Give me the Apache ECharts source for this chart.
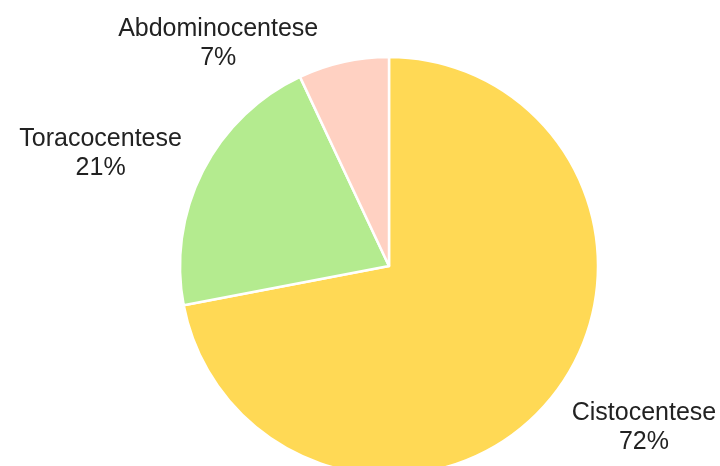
<!DOCTYPE html>
<html>
<head>
<meta charset="utf-8">
<script src="https://cdn.jsdelivr.net/npm/echarts@6/dist/echarts.min.js"></script>
<style>html,body{margin:0;padding:0;background:#fff;}#c{width:720px;height:466px;}</style>
</head>
<body>
<div id="c"></div>
<script>
const categories = ['Cistocentese', 'Toracocentese', 'Abdominocentese'];
const values = [72, 21, 7];
const colors = ['#FFD955', '#B4EB8F', '#FFD1C2'];
const lineLen = [45, 38, 19];
const lineLen2 = [-18, -18, 16];

const chart = echarts.init(document.getElementById('c'));
chart.setOption({
  animation: false,
  series: [{
    type: 'pie',
    center: [389, 266],
    radius: 209,
    startAngle: 90,
    clockwise: true,
    avoidLabelOverlap: false,
    itemStyle: { borderColor: '#fff', borderWidth: 2.5 },
    label: {
      show: true,
      position: 'outside',
      formatter: '{b}\n{d}%',
      fontFamily: 'Liberation Sans, Arial, sans-serif',
      fontSize: 25,
      lineHeight: 29,
      color: '#222'
    },
    labelLine: { show: false },
    labelLayout: function (p) {
      const r = p.labelRect;
      return { x: r.x + r.width / 2, y: r.y + r.height / 2, align: 'center', verticalAlign: 'middle' };
    },
    data: categories.map((n, i) => ({
      name: n, value: values[i],
      itemStyle: { color: colors[i] },
      labelLine: { show: false, length: lineLen[i], length2: lineLen2[i] }
    }))
  }]
});
</script>
</body>
</html>
